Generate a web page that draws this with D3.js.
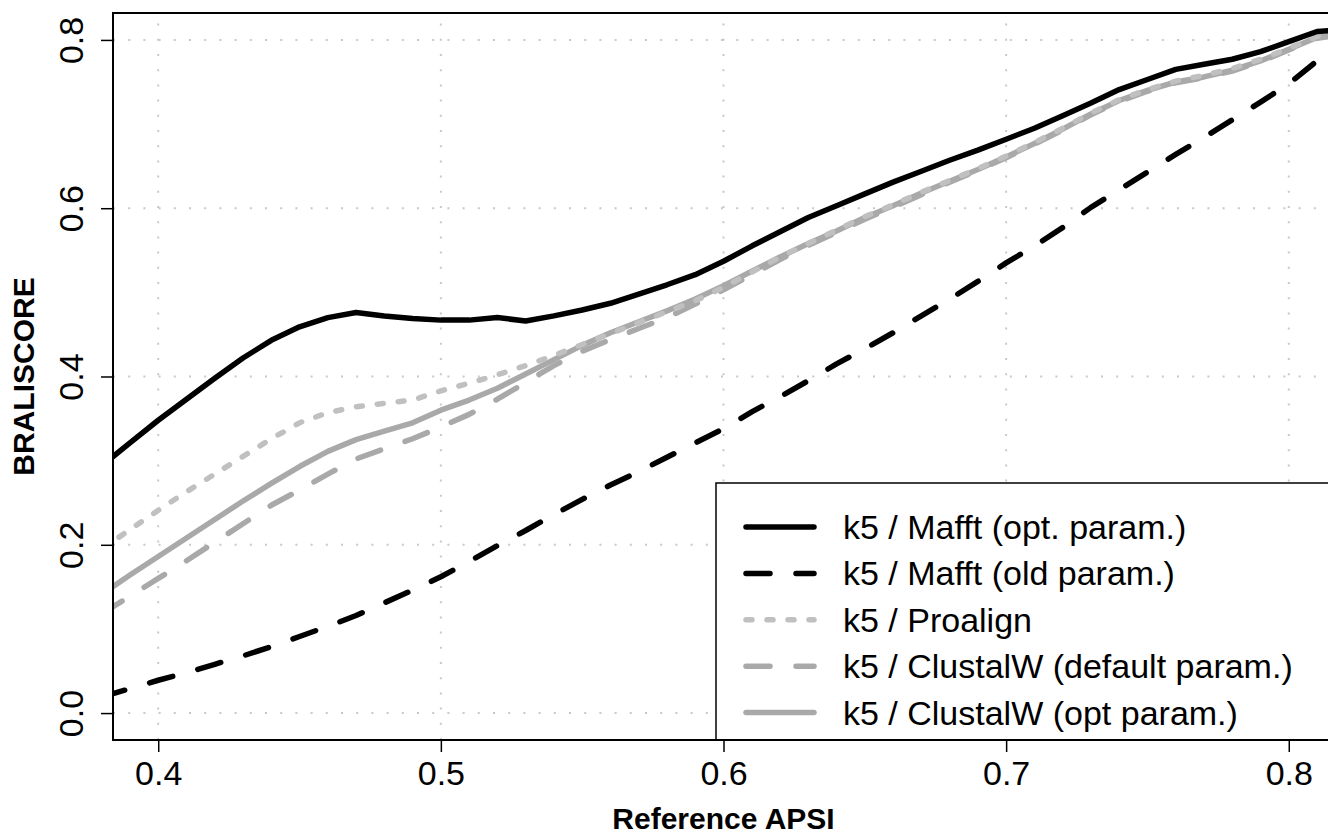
<!DOCTYPE html>
<html>
<head>
<meta charset="utf-8">
<script src="https://cdn.jsdelivr.net/npm/d3@7"></script>
<style>
  html, body { margin: 0; padding: 0; background: #fff; }
  svg { display: block; font-family: "Liberation Sans", Arial, Helvetica, sans-serif; }
</style>
</head>
<body>
<div id="wrapper"></div>
<script>
// x positions (Reference APSI)
const apsi = [
  0.38, 0.39, 0.40, 0.41, 0.42, 0.43, 0.44, 0.45, 0.46, 0.47, 0.48,
  0.49, 0.50, 0.51, 0.52, 0.53, 0.54, 0.55, 0.56, 0.57, 0.58, 0.59,
  0.60, 0.61, 0.62, 0.63, 0.64, 0.65, 0.66, 0.67, 0.68, 0.69, 0.70,
  0.71, 0.72, 0.73, 0.74, 0.75, 0.76, 0.77, 0.78, 0.79, 0.80, 0.81, 0.82
];

// BRALISCORE per method
const mafftOpt = [
  0.294, 0.321, 0.348, 0.373, 0.398, 0.422, 0.443, 0.459, 0.470, 0.476, 0.472,
  0.469, 0.467, 0.467, 0.470, 0.466, 0.472, 0.479, 0.487, 0.498, 0.509, 0.521,
  0.537, 0.555, 0.572, 0.589, 0.603, 0.617, 0.631, 0.644, 0.657, 0.669, 0.682,
  0.695, 0.710, 0.725, 0.741, 0.753, 0.765, 0.771, 0.777, 0.786, 0.798, 0.810, 0.812
];
const mafftOld = [
  0.019, 0.029, 0.039, 0.048, 0.058, 0.068, 0.079, 0.091, 0.103, 0.116, 0.131,
  0.146, 0.162, 0.180, 0.199, 0.217, 0.236, 0.254, 0.271, 0.287, 0.304, 0.321,
  0.338, 0.358, 0.376, 0.395, 0.415, 0.433, 0.452, 0.472, 0.492, 0.513, 0.535,
  0.555, 0.577, 0.601, 0.622, 0.643, 0.664, 0.684, 0.705, 0.726, 0.748, 0.775, 0.790
];
const proalign = [
  0.195, 0.218, 0.241, 0.263, 0.284, 0.305, 0.326, 0.345, 0.357, 0.364, 0.368,
  0.372, 0.383, 0.392, 0.402, 0.413, 0.425, 0.438, 0.451, 0.464, 0.477, 0.490,
  0.506, 0.524, 0.542, 0.558, 0.574, 0.590, 0.604, 0.619, 0.633, 0.647, 0.662,
  0.678, 0.695, 0.713, 0.729, 0.741, 0.751, 0.758, 0.766, 0.777, 0.790, 0.804, 0.809
];
const clustalDefault = [
  0.118, 0.139, 0.160, 0.181, 0.203, 0.225, 0.247, 0.265, 0.284, 0.302, 0.314,
  0.326, 0.340, 0.355, 0.373, 0.393, 0.413, 0.430, 0.444, 0.457, 0.470, 0.486,
  0.503, 0.521, 0.539, 0.556, 0.571, 0.587, 0.601, 0.616, 0.631, 0.645, 0.660,
  0.676, 0.693, 0.711, 0.727, 0.739, 0.749, 0.755, 0.763, 0.774, 0.788, 0.802, 0.807
];
const clustalOpt = [
  0.141, 0.164, 0.186, 0.208, 0.230, 0.252, 0.273, 0.293, 0.311, 0.325, 0.335,
  0.345, 0.360, 0.372, 0.386, 0.403, 0.420, 0.437, 0.452, 0.465, 0.478, 0.492,
  0.508, 0.525, 0.542, 0.558, 0.573, 0.589, 0.603, 0.618, 0.632, 0.646, 0.661,
  0.677, 0.694, 0.712, 0.728, 0.740, 0.750, 0.756, 0.764, 0.775, 0.789, 0.803, 0.808
];

const seriesNames = [
  "k5 / Mafft (opt. param.)",
  "k5 / Mafft (old param.)",
  "k5 / Proalign",
  "k5 / ClustalW (default param.)",
  "k5 / ClustalW (opt param.)"
];
const seriesValues = [mafftOpt, mafftOld, proalign, clustalDefault, clustalOpt];

const xTicks = [0.4, 0.5, 0.6, 0.7, 0.8];
const yTicks = [0.0, 0.2, 0.4, 0.6, 0.8];

const xLabel = "Reference APSI";
const yLabel = "BRALISCORE";

// line styles, same order as seriesNames
const lineStyles = [
  { color: "#000000", dash: null },
  { color: "#000000", dash: "24,26" },
  { color: "#c0c0c0", dash: "6,15" },
  { color: "#a9a9a9", dash: "24,26" },
  { color: "#a9a9a9", dash: null }
];

let dimensions = {
  width: 1328,
  height: 835,
  plotLeft: 113,
  plotRight: 1334,
  plotTop: 13,
  plotBottom: 740
};

let wrapper = d3
  .select("#wrapper")
  .append("svg")
  .attr("width", dimensions.width)
  .attr("height", dimensions.height);

let xScale = d3
  .scaleLinear()
  .domain([0.384, 0.816])
  .range([dimensions.plotLeft, dimensions.plotRight]);

let yScale = d3
  .scaleLinear()
  .domain([-0.032, 0.832])
  .range([dimensions.plotBottom, dimensions.plotTop]);

wrapper
  .append("clipPath")
  .attr("id", "plotClip")
  .append("rect")
  .attr("x", dimensions.plotLeft)
  .attr("y", dimensions.plotTop)
  .attr("width", dimensions.plotRight - dimensions.plotLeft)
  .attr("height", dimensions.plotBottom - dimensions.plotTop);

// dotted grid
let grid = wrapper.append("g").attr("clip-path", "url(#plotClip)");
grid
  .selectAll("line.vgrid")
  .data(xTicks)
  .join("line")
  .attr("class", "vgrid")
  .attr("x1", d => xScale(d))
  .attr("x2", d => xScale(d))
  .attr("y1", dimensions.plotBottom)
  .attr("y2", dimensions.plotTop)
  .attr("stroke", "#c8c8c8")
  .attr("stroke-width", 2)
  .attr("stroke-dasharray", "2,13.2");
grid
  .selectAll("line.hgrid")
  .data(yTicks)
  .join("line")
  .attr("class", "hgrid")
  .attr("x1", dimensions.plotLeft)
  .attr("x2", dimensions.plotRight)
  .attr("y1", d => yScale(d))
  .attr("y2", d => yScale(d))
  .attr("stroke", "#c8c8c8")
  .attr("stroke-width", 2)
  .attr("stroke-dasharray", "2,13.2");

// series lines
let lineGenerator = d3
  .line()
  .x((d, i) => xScale(apsi[i]))
  .y(d => yScale(d));

let drawOrder = [4, 3, 2, 1, 0];
wrapper
  .append("g")
  .attr("clip-path", "url(#plotClip)")
  .selectAll("path")
  .data(drawOrder)
  .join("path")
  .attr("d", i => lineGenerator(seriesValues[i]))
  .attr("fill", "none")
  .attr("stroke", i => lineStyles[i].color)
  .attr("stroke-width", 5.5)
  .attr("stroke-linecap", "round")
  .attr("stroke-linejoin", "round")
  .attr("stroke-dasharray", i => lineStyles[i].dash);

// axes
let xAxisGenerator = d3.axisBottom(xScale).tickValues(xTicks).tickSize(12).tickPadding(9).tickFormat(d3.format(".1f"));
let xAxis = wrapper
  .append("g")
  .attr("transform", `translate(0, ${dimensions.plotBottom})`)
  .call(xAxisGenerator);
xAxis.select(".domain").remove();
xAxis.selectAll("line").attr("stroke", "#000").attr("stroke-width", 1.5);
xAxis.selectAll("text").attr("font-size", 34).attr("fill", "#000").attr("font-family", null);

let yAxisGenerator = d3.axisLeft(yScale).tickValues(yTicks).tickSize(12).tickFormat(d3.format(".1f"));
let yAxis = wrapper
  .append("g")
  .attr("transform", `translate(${dimensions.plotLeft}, 0)`)
  .call(yAxisGenerator);
yAxis.select(".domain").remove();
yAxis.selectAll("line").attr("stroke", "#000").attr("stroke-width", 1.5);
yAxis
  .selectAll("text")
  .attr("font-size", 34)
  .attr("fill", "#000")
  .attr("font-family", null)
  .attr("text-anchor", "middle")
  .attr("x", 0)
  .attr("y", -30)
  .attr("dy", null)
  .attr("transform", "rotate(-90)");

// axis titles
wrapper
  .append("text")
  .attr("x", (dimensions.plotLeft + dimensions.plotRight) / 2)
  .attr("y", 829)
  .attr("text-anchor", "middle")
  .attr("font-weight", "bold")
  .attr("font-size", 30)
  .text(xLabel);

wrapper
  .append("text")
  .attr("transform", `translate(34, ${(dimensions.plotTop + dimensions.plotBottom) / 2}) rotate(-90)`)
  .attr("text-anchor", "middle")
  .attr("font-weight", "bold")
  .attr("font-size", 30)
  .text(yLabel);

// legend, bottom right
let legend = wrapper.append("g");
legend
  .append("rect")
  .attr("x", 716)
  .attr("y", 483)
  .attr("width", dimensions.plotRight - 716)
  .attr("height", dimensions.plotBottom - 483)
  .attr("fill", "#fff")
  .attr("stroke", "#000")
  .attr("stroke-width", 1.5);

let legendRows = legend
  .selectAll("g.row")
  .data(seriesNames)
  .join("g")
  .attr("class", "row")
  .attr("transform", (d, i) => `translate(0, ${527 + i * 46.4})`);

legendRows
  .append("line")
  .attr("x1", 746)
  .attr("x2", 814)
  .attr("stroke", (d, i) => lineStyles[i].color)
  .attr("stroke-width", 5.5)
  .attr("stroke-linecap", "round")
  .attr("stroke-dasharray", (d, i) => lineStyles[i].dash);

legendRows
  .append("text")
  .attr("x", 843)
  .attr("y", 12)
  .attr("font-size", 34)
  .text(d => d);

// plot box
wrapper
  .append("rect")
  .attr("x", dimensions.plotLeft)
  .attr("y", dimensions.plotTop)
  .attr("width", dimensions.plotRight - dimensions.plotLeft)
  .attr("height", dimensions.plotBottom - dimensions.plotTop)
  .attr("fill", "none")
  .attr("stroke", "#000")
  .attr("stroke-width", 2);
</script>
</body>
</html>
